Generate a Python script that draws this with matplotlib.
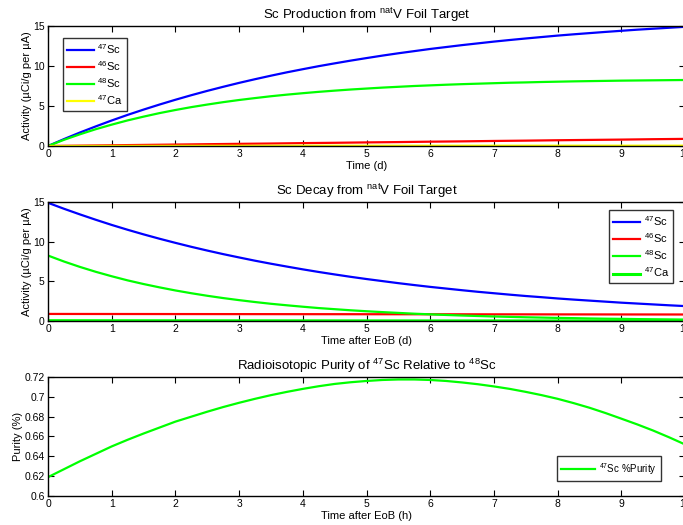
import numpy as np
import matplotlib
matplotlib.use("Agg")
import matplotlib.pyplot as plt
from matplotlib.ticker import FuncFormatter

plt.rcParams['font.family'] = ['Liberation Sans', 'DejaVu Sans']
plt.rcParams['mathtext.default'] = 'regular'

# ---- data ----
t_fine = np.arange(0, 10.001, 0.25)
t_coarse = np.arange(0, 10.001, 0.5)

prod_sc47 = [0, 0.86, 1.68, 2.45, 3.19, 3.89, 4.55, 5.18, 5.78, 6.35, 6.89, 7.40,
             7.89, 8.35, 8.79, 9.21, 9.60, 9.98, 10.33, 10.67, 10.99, 11.30, 11.59,
             11.86, 12.13, 12.37, 12.61, 12.83, 13.05, 13.25, 13.44, 13.62, 13.80,
             13.96, 14.11, 14.26, 14.40, 14.54, 14.66, 14.78, 14.90]
prod_sc48 = [0, 0.77, 1.46, 2.10, 2.67, 3.20, 3.67, 4.11, 4.50, 4.86, 5.18, 5.48,
             5.75, 5.99, 6.22, 6.42, 6.60, 6.77, 6.92, 7.06, 7.18, 7.30, 7.40, 7.50,
             7.58, 7.66, 7.73, 7.79, 7.85, 7.91, 7.95, 8.00, 8.04, 8.08, 8.11, 8.14,
             8.17, 8.19, 8.21, 8.23, 8.25]
prod_sc46 = [0, 0.045, 0.09, 0.135, 0.18, 0.225, 0.27, 0.31, 0.36, 0.40, 0.45,
             0.49, 0.54, 0.58, 0.63, 0.67, 0.72, 0.76, 0.80, 0.85, 0.89]
prod_ca47 = [0, 0.005, 0.01, 0.014, 0.018, 0.021, 0.024, 0.027, 0.029, 0.031, 0.033,
             0.035, 0.036, 0.037, 0.038, 0.039, 0.040, 0.041, 0.041, 0.042, 0.042]

dec_sc47 = [14.9, 14.15, 13.44, 12.76, 12.11, 11.50, 10.92, 10.37, 9.85, 9.35, 8.88,
            8.43, 8.01, 7.60, 7.22, 6.86, 6.51, 6.18, 5.87, 5.57, 5.29, 5.03, 4.77,
            4.53, 4.30, 4.09, 3.88, 3.68, 3.50, 3.32, 3.15, 3.00, 2.84, 2.70, 2.57,
            2.44, 2.31, 2.20, 2.09, 1.98, 1.88]
dec_sc48 = [8.25, 7.50, 6.82, 6.20, 5.64, 5.12, 4.66, 4.24, 3.85, 3.50, 3.18, 2.89,
            2.63, 2.39, 2.17, 1.98, 1.80, 1.63, 1.49, 1.35, 1.23, 1.12, 1.02, 0.92,
            0.84, 0.76, 0.69, 0.63, 0.57, 0.52, 0.47, 0.43, 0.39, 0.36, 0.32, 0.29,
            0.27, 0.24, 0.22, 0.20, 0.18]
dec_sc46 = [0.89, 0.886, 0.882, 0.879, 0.875, 0.872, 0.868, 0.865, 0.861, 0.858,
            0.854, 0.851, 0.847, 0.844, 0.840, 0.837, 0.833, 0.830, 0.826, 0.823, 0.82]
dec_ca47 = [0.042, 0.038, 0.035, 0.032, 0.029, 0.026, 0.024, 0.022, 0.020, 0.018,
            0.016, 0.015, 0.013, 0.012, 0.011, 0.010, 0.009, 0.008, 0.008, 0.007, 0.006]

purity = [0.619, 0.627, 0.635, 0.6425, 0.650, 0.6567, 0.663, 0.669, 0.675, 0.680,
          0.685, 0.6897, 0.694, 0.698, 0.7017, 0.705, 0.708, 0.7107, 0.713, 0.7147,
          0.716, 0.717, 0.7175, 0.7175, 0.717, 0.716, 0.7145, 0.7127, 0.7105, 0.708,
          0.705, 0.7017, 0.698, 0.6937, 0.689, 0.6837, 0.678, 0.6722, 0.666, 0.6592,
          0.652]

labels = [r'$^{47}$Sc', r'$^{46}$Sc', r'$^{48}$Sc', r'$^{47}$Ca']

# ---- figure ----
fig = plt.figure(figsize=(6.83, 5.25), dpi=100)
W, H = 683, 525

def add_ax(top_px, bottom_px):
    left = 48 / W
    right = 685 / W
    return fig.add_axes([left, 1 - bottom_px / H, right - left, (bottom_px - top_px) / H])

def style(ax):
    ax.tick_params(direction='in', top=True, right=True, length=4, width=0.8,
                   labelsize=7.5, pad=2.5, colors='black')
    for s in ax.spines.values():
        s.set_linewidth(1.0)
    ax.set_xlim(0, 10)
    ax.set_xticks(range(0, 11))

leg_kw = dict(fontsize=8, frameon=True, fancybox=False, edgecolor='black',
              handlelength=2.4, borderpad=0.35, labelspacing=0.3,
              handletextpad=0.35, borderaxespad=0)

lw = 1.6
ax1 = add_ax(26, 146)
ax1.plot(t_fine, prod_sc47, color=(0, 0, 1), lw=lw, label=labels[0])
ax1.plot(t_coarse, prod_sc46, color=(1, 0, 0), lw=lw, label=labels[1])
ax1.plot(t_fine, prod_sc48, color=(0, 1, 0), lw=lw, label=labels[2])
ax1.plot(t_coarse, prod_ca47, color=(1, 1, 0), lw=lw, label=labels[3])
style(ax1)
ax1.set_ylim(0, 15)
ax1.set_yticks([0, 5, 10, 15])
ax1.set_title(r'Sc Production from $^{nat}$V Foil Target', fontsize=9.5, pad=5)
ax1.set_xlabel('Time (d)', fontsize=8, labelpad=1)
ax1.set_ylabel('Activity (µCi/g per µA)', fontsize=8, labelpad=1)
leg1 = ax1.legend(loc='upper left', bbox_to_anchor=(0.0235, 0.9), **leg_kw)
leg1.get_frame().set_linewidth(1.0)

ax2 = add_ax(202, 321)
ax2.plot(t_fine, dec_sc47, color=(0, 0, 1), lw=lw, label=labels[0])
ax2.plot(t_coarse, dec_sc46, color=(1, 0, 0), lw=lw, label=labels[1])
ax2.plot(t_fine, dec_sc48, color=(0, 1, 0), lw=lw, label=labels[2])
ax2.plot(t_coarse, dec_ca47, color=(0, 1, 0), lw=lw + 0.6, label=labels[3])
style(ax2)
ax2.set_ylim(0, 15)
ax2.set_yticks([0, 5, 10, 15])
ax2.set_title(r'Sc Decay from $^{nat}$V Foil Target', fontsize=9.5, pad=5)
ax2.set_xlabel('Time after EoB (d)', fontsize=8, labelpad=1)
ax2.set_ylabel('Activity (µCi/g per µA)', fontsize=8, labelpad=1)
leg2 = ax2.legend(loc='upper right', bbox_to_anchor=(0.981, 0.93), **leg_kw)
leg2.get_frame().set_linewidth(1.0)

ax3 = add_ax(377, 496)
ax3.plot(t_fine, purity, color=(0, 1, 0), lw=lw, label=r'$^{47}$Sc %Purity')
style(ax3)
ax3.set_ylim(0.6, 0.72)
ax3.set_yticks([0.6, 0.62, 0.64, 0.66, 0.68, 0.7, 0.72])
ax3.yaxis.set_major_formatter(FuncFormatter(lambda v, p: ('%g' % round(v, 2))))
ax3.set_title(r'Radioisotopic Purity of $^{47}$Sc Relative to $^{48}$Sc', fontsize=9.5, pad=5)
ax3.set_xlabel('Time after EoB (h)', fontsize=8, labelpad=1)
ax3.set_ylabel('Purity (%)', fontsize=8, labelpad=1)
leg3_kw = dict(leg_kw)
leg3_kw['fontsize'] = 7
leg3_kw['handlelength'] = 3.5
leg3_kw['borderpad'] = 0.45
leg3 = ax3.legend(loc='lower right', bbox_to_anchor=(0.962, 0.126), **leg3_kw)
leg3.get_frame().set_linewidth(1.0)

fig.savefig('out.png', dpi=100)
